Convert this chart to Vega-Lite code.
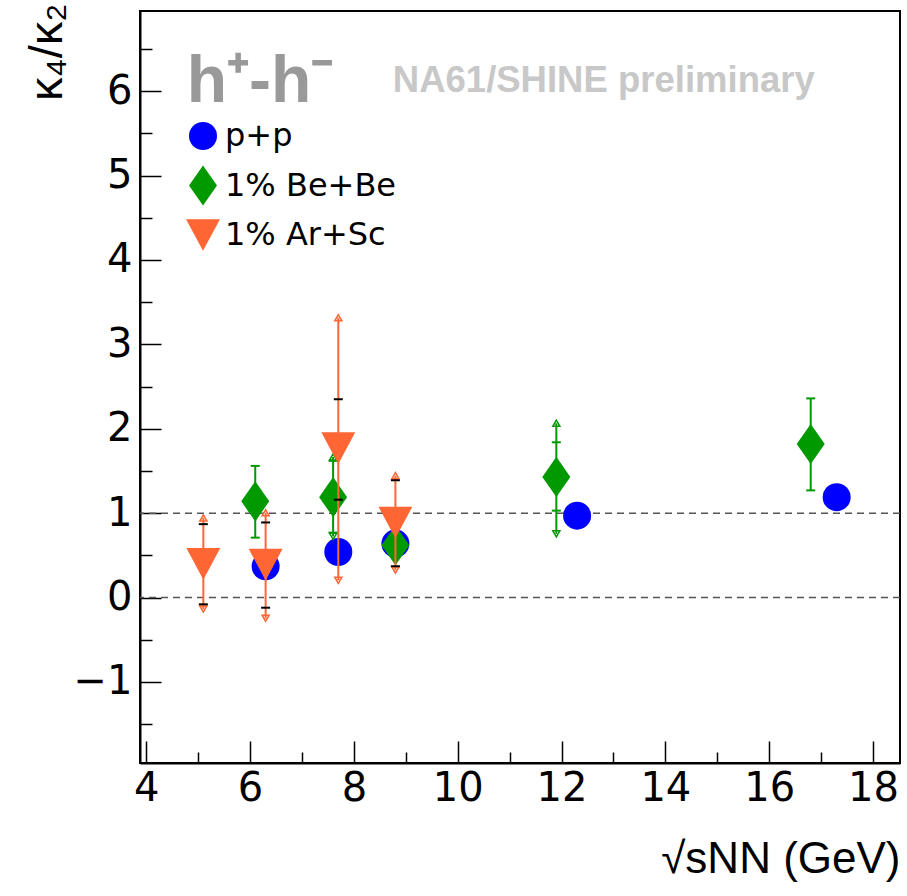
{
  "$schema": "https://vega.github.io/schema/vega-lite/v6.json",
  "width": 760,
  "height": 752,
  "autosize": {"type": "none"},
  "padding": {"left": 140, "top": 11, "right": 7, "bottom": 133},
  "background": "white",
  "config": {
    "font": "Liberation Sans",
    "view": {"stroke": "black", "strokeWidth": 2},
    "axis": {
      "grid": false,
      "domainColor": "black",
      "domainWidth": 2,
      "tickColor": "black",
      "tickWidth": 1.5,
      "labelFont": "DejaVu Sans",
      "labelFontSize": 40,
      "labelColor": "black",
      "labelFlush": false,
      "labelOverlap": false,
      "labelBound": false,
      "titleFont": "Liberation Sans",
      "titleFontSize": 44,
      "titleFontWeight": "normal",
      "titleColor": "black"
    },
    "legend": {
      "orient": "none",
      "legendX": 47,
      "legendY": 109,
      "padding": 0,
      "labelFont": "DejaVu Sans",
      "labelFontSize": 32,
      "labelColor": "black",
      "labelLimit": 0,
      "symbolSize": 784,
      "symbolStrokeWidth": 0,
      "rowPadding": 12.5,
      "labelOffset": 6
    }
  },
  "datasets": {
    "pts": [
      {"series": "p+p", "x": 6.3, "y": 0.37},
      {"series": "p+p", "x": 7.7, "y": 0.54},
      {"series": "p+p", "x": 8.8, "y": 0.64},
      {"series": "p+p", "x": 12.3, "y": 0.97},
      {"series": "p+p", "x": 17.3, "y": 1.19},
      {"series": "1% Be+Be", "x": 6.1, "y": 1.14},
      {"series": "1% Be+Be", "x": 7.6, "y": 1.19},
      {"series": "1% Be+Be", "x": 8.8, "y": 0.62},
      {"series": "1% Be+Be", "x": 11.9, "y": 1.43},
      {"series": "1% Be+Be", "x": 16.8, "y": 1.82},
      {"series": "1% Ar+Sc", "x": 5.1, "y": 0.40},
      {"series": "1% Ar+Sc", "x": 6.3, "y": 0.39},
      {"series": "1% Ar+Sc", "x": 7.7, "y": 1.77},
      {"series": "1% Ar+Sc", "x": 8.8, "y": 0.89}
    ],
    "errs": [
      {"series": "1% Be+Be", "x": 6.1, "lo": 0.71, "hi": 1.56},
      {"series": "1% Be+Be", "x": 7.6, "lo": 0.725, "hi": 1.665},
      {"series": "1% Be+Be", "x": 11.9, "lo": 0.755, "hi": 2.065},
      {"series": "1% Be+Be", "x": 16.8, "lo": 1.27, "hi": 2.36},
      {"series": "1% Ar+Sc", "x": 5.1, "lo": -0.135, "hi": 0.945},
      {"series": "1% Ar+Sc", "x": 6.3, "lo": -0.245, "hi": 1.005},
      {"series": "1% Ar+Sc", "x": 7.7, "lo": 0.205, "hi": 3.315},
      {"series": "1% Ar+Sc", "x": 8.8, "lo": 0.325, "hi": 1.445}
    ],
    "caps": [
      {"series": "1% Be+Be", "x": 6.1, "y": 1.56},
      {"series": "1% Be+Be", "x": 6.1, "y": 0.71},
      {"series": "1% Be+Be", "x": 7.6, "y": 1.62},
      {"series": "1% Be+Be", "x": 7.6, "y": 0.77},
      {"series": "1% Be+Be", "x": 11.9, "y": 1.84},
      {"series": "1% Be+Be", "x": 11.9, "y": 1.03},
      {"series": "1% Be+Be", "x": 16.8, "y": 2.36},
      {"series": "1% Be+Be", "x": 16.8, "y": 1.27},
      {"series": "1% Ar+Sc", "x": 5.1, "y": 0.87},
      {"series": "1% Ar+Sc", "x": 5.1, "y": -0.08},
      {"series": "1% Ar+Sc", "x": 6.3, "y": 0.89},
      {"series": "1% Ar+Sc", "x": 6.3, "y": -0.12},
      {"series": "1% Ar+Sc", "x": 7.7, "y": 2.35},
      {"series": "1% Ar+Sc", "x": 7.7, "y": 1.16},
      {"series": "1% Ar+Sc", "x": 8.8, "y": 1.39},
      {"series": "1% Ar+Sc", "x": 8.8, "y": 0.37}
    ],
    "arrows": [
      {"series": "1% Be+Be", "x": 7.6, "y": 1.665, "dir": "up"},
      {"series": "1% Be+Be", "x": 7.6, "y": 0.725, "dir": "down"},
      {"series": "1% Be+Be", "x": 11.9, "y": 2.065, "dir": "up"},
      {"series": "1% Be+Be", "x": 11.9, "y": 0.755, "dir": "down"},
      {"series": "1% Ar+Sc", "x": 5.1, "y": 0.945, "dir": "up"},
      {"series": "1% Ar+Sc", "x": 5.1, "y": -0.135, "dir": "down"},
      {"series": "1% Ar+Sc", "x": 6.3, "y": 1.005, "dir": "up"},
      {"series": "1% Ar+Sc", "x": 6.3, "y": -0.245, "dir": "down"},
      {"series": "1% Ar+Sc", "x": 7.7, "y": 3.315, "dir": "up"},
      {"series": "1% Ar+Sc", "x": 7.7, "y": 0.205, "dir": "down"},
      {"series": "1% Ar+Sc", "x": 8.8, "y": 1.445, "dir": "up"},
      {"series": "1% Ar+Sc", "x": 8.8, "y": 0.325, "dir": "down"}
    ],
    "refs": [{"ref": 0}, {"ref": 1}],
    "labels": [
      {"text": "h⁺-h⁻", "x": 4.78, "y": 5.87, "kind": "big"},
      {"text": "NA61/SHINE preliminary", "x": 8.75, "y": 5.99, "kind": "prelim"}
    ]
  },
  "layer": [
    {
      "data": {"name": "refs"},
      "mark": {"type": "rule", "color": "#555555", "strokeWidth": 1.5, "strokeDash": [7, 5]},
      "encoding": {
        "y": {
          "field": "ref", "type": "quantitative",
          "scale": {"domain": [-1.96, 6.95], "nice": false, "zero": false},
          "axis": {
            "title": "κ₄/κ₂",
            "titleFontSize": 47,
            "titleAnchor": "end",
            "titleAlign": "right",
            "titleY": -8,
            "titlePadding": 2,
            "values": [-1.5, -1, -0.5, 0, 0.5, 1, 1.5, 2, 2.5, 3, 3.5, 4, 4.5, 5, 5.5, 6, 6.5],
            "labelExpr": "datum.value % 1 === 0 ? format(datum.value, 'd') : ''",
            "tickSize": {"condition": {"test": "datum.value % 1 === 0", "value": -21}, "value": -12},
            "labelPadding": 29
          }
        }
      }
    },
    {
      "data": {"name": "pts"},
      "transform": [{"filter": "datum.series === 'p+p'"}],
      "mark": {"type": "point", "filled": true, "size": 784, "opacity": 1},
      "encoding": {
        "x": {
          "field": "x", "type": "quantitative",
          "scale": {"domain": [3.88, 18.52], "nice": false, "zero": false},
          "axis": {
            "title": "√sNN (GeV)",
            "titleAnchor": "end",
            "titlePadding": 18,
            "values": [4, 4.5, 5, 5.5, 6, 6.5, 7, 7.5, 8, 8.5, 9, 9.5, 10, 10.5, 11, 11.5, 12, 12.5, 13, 13.5, 14, 14.5, 15, 15.5, 16, 16.5, 17, 17.5, 18, 18.5],
            "labelExpr": "datum.value % 2 === 0 ? datum.label : ''",
            "tickSize": {"condition": {"test": "datum.value % 2 === 0", "value": -22}, "value": -11},
            "labelPadding": 27
          }
        },
        "y": {"field": "y", "type": "quantitative"},
        "color": {
          "field": "series", "type": "nominal",
          "scale": {"domain": ["p+p", "1% Be+Be", "1% Ar+Sc"], "range": ["#0000ff", "#009900", "#ff6633"]},
          "legend": {"title": null, "labelLimit": 0}
        },
        "shape": {
          "field": "series", "type": "nominal",
          "scale": {"domain": ["p+p", "1% Be+Be", "1% Ar+Sc"], "range": ["circle", "M0,-1.43L1,0L0,1.43L-1,0Z", "M-1.21,-1.13L1.21,-1.13L0,1.13Z"]},
          "legend": {"title": null, "labelLimit": 0}
        }
      }
    },
    {
      "data": {"name": "errs"},
      "transform": [{"filter": "datum.series === '1% Be+Be'"}],
      "mark": {"type": "rule", "color": "#009900", "strokeWidth": 2},
      "encoding": {
        "x": {"field": "x", "type": "quantitative"},
        "y": {"field": "lo", "type": "quantitative"},
        "y2": {"field": "hi"}
      }
    },
    {
      "data": {"name": "caps"},
      "transform": [{"filter": "datum.series === '1% Be+Be'"}],
      "mark": {"type": "tick", "orient": "horizontal", "color": "#009900", "size": 9, "thickness": 2, "opacity": 1},
      "encoding": {
        "x": {"field": "x", "type": "quantitative"},
        "y": {"field": "y", "type": "quantitative"}
      }
    },
    {
      "data": {"name": "arrows"},
      "transform": [{"filter": "datum.series === '1% Be+Be'"}],
      "mark": {"type": "point", "filled": false, "color": "#009900", "strokeWidth": 1.5, "size": 50, "opacity": 1},
      "encoding": {
        "x": {"field": "x", "type": "quantitative"},
        "y": {"field": "y", "type": "quantitative"},
        "shape": {"condition": {"test": "datum.dir === 'up'", "value": "triangle-up"}, "value": "triangle-down"}
      }
    },
    {
      "data": {"name": "pts"},
      "transform": [{"filter": "datum.series === '1% Be+Be'"}],
      "mark": {"type": "point", "filled": true, "size": 784, "opacity": 1},
      "encoding": {
        "x": {"field": "x", "type": "quantitative"},
        "y": {"field": "y", "type": "quantitative"},
        "color": {"field": "series", "type": "nominal"},
        "shape": {"field": "series", "type": "nominal"}
      }
    },
    {
      "data": {"name": "errs"},
      "transform": [{"filter": "datum.series === '1% Ar+Sc'"}],
      "mark": {"type": "rule", "color": "#ff6633", "strokeWidth": 2},
      "encoding": {
        "x": {"field": "x", "type": "quantitative"},
        "y": {"field": "lo", "type": "quantitative"},
        "y2": {"field": "hi"}
      }
    },
    {
      "data": {"name": "arrows"},
      "transform": [{"filter": "datum.series === '1% Ar+Sc'"}],
      "mark": {"type": "point", "filled": false, "color": "#ff6633", "strokeWidth": 1.5, "size": 50, "opacity": 1},
      "encoding": {
        "x": {"field": "x", "type": "quantitative"},
        "y": {"field": "y", "type": "quantitative"},
        "shape": {"condition": {"test": "datum.dir === 'up'", "value": "triangle-up"}, "value": "triangle-down"}
      }
    },
    {
      "data": {"name": "pts"},
      "transform": [{"filter": "datum.series === '1% Ar+Sc'"}],
      "mark": {"type": "point", "filled": true, "size": 784, "opacity": 1},
      "encoding": {
        "x": {"field": "x", "type": "quantitative"},
        "y": {"field": "y", "type": "quantitative"},
        "color": {"field": "series", "type": "nominal"},
        "shape": {"field": "series", "type": "nominal"}
      }
    },
    {
      "data": {"name": "caps"},
      "transform": [{"filter": "datum.series === '1% Ar+Sc'"}],
      "mark": {"type": "tick", "orient": "horizontal", "color": "black", "size": 9, "thickness": 2, "opacity": 1},
      "encoding": {
        "x": {"field": "x", "type": "quantitative"},
        "y": {"field": "y", "type": "quantitative"}
      }
    },
    {
      "data": {"name": "labels"},
      "transform": [{"filter": "datum.kind === 'big'"}],
      "mark": {"type": "text", "align": "left", "baseline": "alphabetic", "fontSize": 66, "fontWeight": "bold", "color": "#999999"},
      "encoding": {
        "x": {"field": "x", "type": "quantitative"},
        "y": {"field": "y", "type": "quantitative"},
        "text": {"field": "text"}
      }
    },
    {
      "data": {"name": "labels"},
      "transform": [{"filter": "datum.kind === 'prelim'"}],
      "mark": {"type": "text", "align": "left", "baseline": "alphabetic", "fontSize": 36.5, "fontWeight": "bold", "color": "#c8c8c8"},
      "encoding": {
        "x": {"field": "x", "type": "quantitative"},
        "y": {"field": "y", "type": "quantitative"},
        "text": {"field": "text"}
      }
    }
  ]
}
